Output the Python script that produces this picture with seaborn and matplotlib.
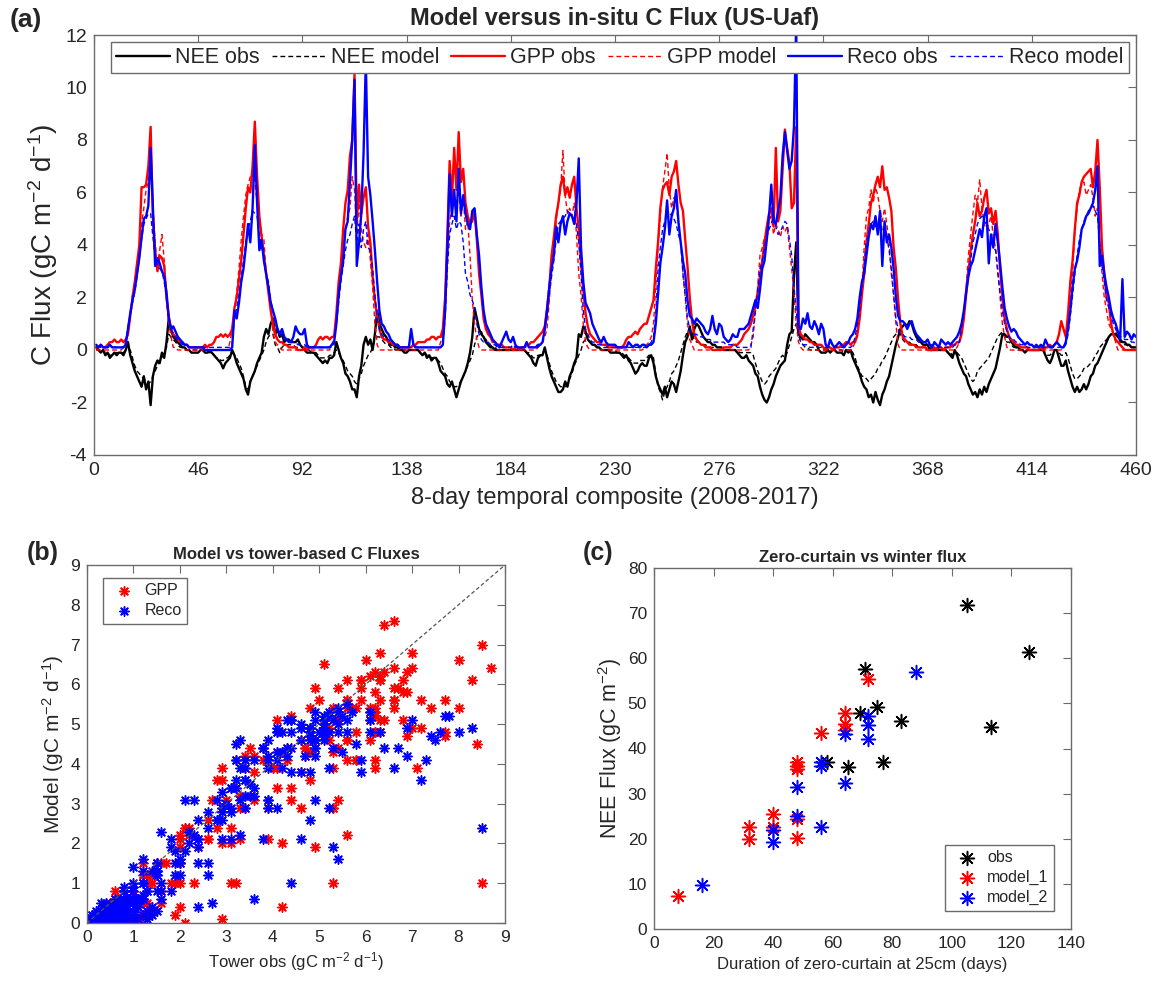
import numpy as np
import pandas as pd
import matplotlib
matplotlib.use("Agg")
import matplotlib.pyplot as plt
import seaborn as sns

# ---------------------------------------------------------------------------
# Panel (a): 8-day composites 2008-2017, one row of 46 composites per year
# ---------------------------------------------------------------------------
gpp_obs = [
    [0.1,0.1,0.2,0.1,0.1,0.2,0.3,0.3,0.4,0.3,0.3,0.4,0.3,0.4,0.6,1.3,2.0,2.6,3.3,4.0,6.2,6.2,6.3,7.0,8.5,5.0,3.8,3.0,3.6,3.5,3.2,2.0,1.3,0.8,0.6,0.5,0.4,0.3,0.3,0.2,0.2,0.1,0.1,0.1,0.1,0.1],
    [0.1,0.1,0.2,0.1,0.2,0.2,0.3,0.5,0.5,0.6,0.5,0.6,0.5,0.6,0.8,1.6,2.0,2.7,3.4,4.4,5.4,6.2,6.0,7.0,8.7,6.6,5.1,4.3,3.6,2.9,2.2,1.5,1.0,0.6,0.4,0.3,0.3,0.2,0.2,0.1,0.1,0.1,0.1,0,0,0],
    [0.1,0,0.1,0.1,0.1,0.2,0.4,0.5,0.4,0.5,0.5,0.4,0.5,0.5,1.4,2.6,3.3,4.6,5.6,6.1,7.4,8.0,10.5,4.9,6.3,5.2,5.8,6.2,4.7,4.1,2.8,1.9,1.3,0.8,0.5,0.4,0.4,0.3,0.3,0.2,0.2,0.2,0.1,0.1,0.1,0.1],
    [0.1,0.1,0.2,0.2,0.3,0.3,0.3,0.3,0.4,0.4,0.5,0.5,0.4,0.5,0.5,0.8,2.0,4.4,7.2,5.7,7.7,6.1,8.3,6.4,6.9,5.6,5.1,4.8,4.9,5.3,4.2,2.9,2.1,1.2,0.8,0.6,0.5,0.3,0.3,0.2,0.2,0.2,0.1,0.1,0.1,0.1],
    [0,0.1,0.1,0,0.1,0.1,0.2,0.2,0.3,0.3,0.4,0.5,0.6,0.7,0.9,1.6,2.4,3.6,4.3,5.1,5.6,6.3,6.6,5.9,6.2,5.8,6.3,6.6,5.4,4.6,3.3,2.3,1.4,0.9,0.6,0.5,0.4,0.3,0.3,0.2,0.2,0.2,0.1,0.1,0.1,0.1],
    [0.1,0.1,0.1,0.2,0.4,0.5,0.5,0.6,0.7,0.6,0.8,0.9,1.0,1.0,1.3,1.6,1.9,3.1,4.1,5.4,6.1,6.3,6.4,5.9,6.6,6.8,7.2,6.3,5.6,5.3,4.2,3.2,2.0,1.1,0.6,0.4,0.3,0.2,0.2,0.1,0.1,0.1,0,0,0,0],
    [0,0.1,0.1,0.1,0.1,0.2,0.2,0.2,0.3,0.4,0.6,0.7,0.8,1.0,1.3,1.7,2.2,2.8,3.4,4.1,4.7,5.2,5.4,4.7,7.7,4.9,5.3,6.9,8.4,7.7,7.1,5.4,5.6,8.5,0.9,0.6,0.5,0.4,0.4,0.3,0.3,0.2,0.2,0.2,0.2,0.1],
    [0,0.1,0.1,0,0.1,0.1,0.1,0.2,0.2,0.3,0.3,0.2,0.3,0.3,0.6,1.2,2.1,2.9,4.1,4.8,5.6,5.9,6.3,6.6,6.2,7.0,6.1,6.2,5.8,5.3,3.9,3.1,1.9,1.0,0.5,0.4,0.3,0.2,0.2,0.2,0.1,0.1,0.1,0.1,0.1,0],
    [0,0,0.1,0,0.1,0.1,0,0.1,0.1,0.1,0.2,0.2,0.3,0.3,0.6,1.2,2.1,2.9,3.8,4.4,4.9,5.6,5.1,5.3,5.8,6.1,5.2,5.4,4.8,5.3,4.4,3.1,2.0,1.2,0.8,0.5,0.4,0.3,0.2,0.2,0.1,0.1,0.1,0.1,0,0],
    [0,0,0,0.1,0,0.1,0.1,0.2,0.1,0.2,0.3,0.6,1.1,0.8,0.5,1.4,2.6,3.4,4.6,5.6,5.9,6.4,6.6,6.7,6.8,6.9,6.2,6.8,8.0,6.2,3.9,2.9,2.0,1.8,1.0,0.6,0.4,0.3,0.2,0.1,0,0,0,0,0,0],
]
gpp_mod = [
    [0,0,0,0,0,0,0,0,0,0,0,0,0.1,0.3,0.6,1.2,2.1,2.6,3.2,3.9,4.8,5.4,6.1,6.4,7.0,5.6,4.1,3.1,3.8,4.4,3.4,1.9,1.0,0.5,0.1,0.1,0,0,0,0,0,0,0,0,0,0],
    [0,0,0,0,0,0,0,0,0,0,0,0,0,0.3,0.8,1.5,2.2,3.1,4.2,5.1,5.9,6.3,6.6,6.8,6.4,5.6,4.9,4.4,4.2,2.9,2.2,1.5,0.7,0.3,0.2,0.1,0,0,0,0,0,0,0,0,0,0],
    [0,0,0,0,0,0,0,0,0,0,0,0,0.2,0.5,1.2,2.1,2.9,3.8,4.6,5.1,5.4,6.6,6.1,4.4,5.6,4.6,4.1,3.9,4.4,3.4,2.4,1.0,0.2,0,0,0,0,0,0,0,0,0,0,0,0,0],
    [0,0,0,0,0,0,0,0,0,0,0,0,0,0,0.3,0.6,1.5,3.4,4.9,5.4,5.6,5.3,6.1,5.1,5.8,4.6,4.9,3.6,1.9,1.0,0.4,0.1,0,0,0,0,0,0,0,0,0,0,0,0,0,0],
    [0,0,0,0,0,0,0,0,0,0,0,0.1,0.2,0.3,0.5,0.8,1.9,3.1,4.1,4.9,5.6,6.1,7.6,5.9,5.2,5.4,5.1,5.6,4.4,2.9,2.1,1.0,0.3,0.1,0,0,0,0,0,0,0,0,0,0,0,0],
    [0,0,0,0,0,0,0,0,0,0,0,0,0.1,0.2,0.3,0.5,1.0,2.4,3.9,5.1,6.2,6.8,7.5,6.1,5.4,5.8,5.6,4.8,4.1,2.9,2.0,1.0,0.4,0.2,0,0,0,0,0,0,0,0,0,0,0,0],
    [0,0,0,0,0,0,0,0,0,0,0,0,0,0.2,0.5,1.5,2.4,3.6,3.9,4.3,4.2,4.9,5.1,4.4,4.8,4.6,4.3,4.7,4.5,4.7,3.9,3.1,2.2,1.0,0.3,0.1,0,0,0,0,0,0,0,0,0,0],
    [0,0,0,0,0,0,0,0,0,0,0,0,0.1,0.3,0.5,1.2,2.4,3.9,5.1,5.4,6.1,5.6,6.2,5.9,5.3,4.9,5.4,4.8,4.1,2.9,2.1,1.0,0.2,0,0,0,0,0,0,0,0,0,0,0,0,0],
    [0,0,0,0,0,0,0,0,0,0,0,0,0.1,0.3,0.8,1.5,2.4,3.6,4.4,5.2,5.9,5.6,6.5,5.4,4.8,4.6,4.8,5.1,4.3,3.9,3.1,2.0,1.0,0.5,0.1,0,0,0,0,0,0,0,0,0,0,0],
    [0,0,0,0,0,0,0,0,0,0,0,0,0,0.1,0.3,1.0,2.1,2.9,4.6,5.4,6.1,6.3,6.4,5.9,6.1,6.3,5.8,5.1,5.4,4.1,2.9,2.0,1.5,1.0,0.8,0.6,0.3,0,0,0,0,0,0,0,0,0],
]
reco_obs = [
    [0.2,0.1,0.2,0.1,0.1,0.1,0.2,0.1,0.1,0.1,0.1,0.1,0.1,0.2,0.8,1.4,1.9,2.3,2.9,3.5,4.3,5.0,5.1,5.5,7.7,5.5,3.2,3.5,3.3,3.0,2.8,2.2,1.2,0.8,0.9,0.7,0.5,0.4,0.3,0.2,0.2,0.1,0.1,0.1,0.1,0.1],
    [0.1,0.1,0,0,0,0,0,0,0,0,0,0,0,0,0.1,1.5,1.2,1.8,2.6,3.1,3.9,4.8,4.1,5.4,7.8,5.6,3.8,4.2,3.4,2.9,2.4,1.8,1.5,1.2,0.8,0.6,0.8,0.5,0.4,0.3,0.3,0.5,0.9,0.7,0.6,0.6],
    [0.8,0.2,0.1,0.1,0.1,0.1,0.1,0.1,0.1,0.1,0.1,0.1,0.2,0.3,1.0,2.1,2.8,3.4,4.6,4.9,6.4,8.0,10.3,3.2,4.1,5.2,7.5,11.0,6.6,5.9,4.9,3.8,2.6,1.5,1.0,0.9,0.7,0.6,0.4,0.3,0.2,0.2,0.1,0.1,0.1,0.1],
    [0.1,0.8,0.2,0.1,0.1,0.1,0.1,0.1,0.1,0.1,0.1,0.1,0.1,0.1,0.1,0.2,1.5,3.9,6.7,5.1,6.1,4.9,6.9,5.2,5.9,5.2,4.8,4.6,5.3,5.4,4.4,3.6,2.4,1.5,1.0,0.8,0.6,0.4,0.3,0.2,0.1,0.3,0.5,0.7,0.4,0.3],
    [0.5,0.2,0.1,0.1,0.1,0.1,0.3,0.1,0.1,0.1,0.1,0.2,0.2,0.3,0.8,1.5,2.4,3.1,3.6,4.7,4.1,4.8,5.1,4.4,4.9,5.2,5.1,4.8,5.6,7.3,3.9,2.6,1.8,1.6,1.4,1.0,0.8,0.6,0.4,0.3,0.5,0.3,0.2,0.2,0.2,0.2],
    [0.1,0.1,0.1,0.1,0.1,0.3,0.2,0.1,0.2,0.2,0.1,0.2,0.2,0.1,0.2,0.2,0.3,1.0,2.1,3.3,3.9,4.6,5.7,4.4,5.1,5.4,6.1,4.9,4.1,3.4,2.9,1.9,1.3,1.2,1.0,1.2,1.1,1.0,0.9,0.7,0.6,0.8,1.3,0.8,0.6,1.0],
    [0.9,0.5,0.4,0.3,0.4,0.6,0.5,0.5,0.8,0.8,0.8,0.9,1.0,1.3,1.6,1.9,1.6,2.3,3.1,3.4,4.2,5.1,6.3,4.9,4.8,5.3,5.8,7.4,8.3,7.6,6.9,7.2,8.5,12.5,0.9,0.8,1.2,1.0,1.4,0.9,0.8,1.1,0.9,0.6,1.0,0.8],
    [0.2,0.1,0.4,0.2,0.1,0.2,0.3,0.2,0.1,0.2,0.3,0.5,0.6,0.8,1.2,2.0,2.6,2.9,3.6,4.3,4.8,4.6,5.1,4.4,5.3,3.2,4.9,4.1,4.4,3.9,3.1,2.0,1.3,1.1,1.1,1.0,0.8,1.0,1.1,0.8,0.6,0.5,0.4,0.3,0.3,0.4],
    [0.2,0.1,0.3,0.2,0.1,0.4,0.3,0.2,0.3,0.2,0.3,0.4,0.5,0.7,1.0,1.5,2.2,2.8,3.2,3.4,3.8,4.2,4.6,4.3,5.1,5.4,3.3,4.4,3.9,4.8,4.1,3.3,2.4,1.6,1.2,0.9,0.7,0.8,0.7,0.5,0.4,0.3,0.2,0.3,0.2,0.2],
    [0.1,0.2,0.1,0.2,0.1,0.4,0.2,0.1,0.1,0.2,0.3,0.2,0.1,0.1,0.3,0.8,1.5,2.4,3.1,3.4,3.9,4.6,4.8,5.1,5.2,5.4,5.6,6.1,7.0,3.2,3.6,2.9,2.4,2.0,1.5,1.2,1.0,0.7,0.4,2.7,0.5,0.7,0.6,0.4,0.6,0.5],
]
reco_mod = [
    [0.1,0.1,0.1,0.1,0.1,0.1,0.1,0.1,0.1,0.1,0.1,0.1,0.1,0.2,0.9,1.3,1.8,2.2,2.8,3.5,4.2,4.8,5.0,5.2,5.2,4.3,3.6,3.2,3.1,3.0,2.6,2.0,1.3,0.8,0.6,0.5,0.4,0.3,0.2,0.2,0.2,0.1,0.1,0.1,0.1,0.1],
    [0.1,0.1,0.1,0.1,0.1,0.1,0.1,0.1,0.1,0.1,0.1,0.1,0.1,0.1,0.2,1.2,1.6,2.1,2.8,3.4,4.1,4.6,4.9,5.3,5.2,5.1,4.4,3.9,3.6,2.9,2.6,1.9,1.5,1.0,0.8,0.6,0.5,0.4,0.4,0.3,0.3,0.3,0.3,0.2,0.2,0.2],
    [0.2,0.1,0.1,0.1,0.1,0.1,0.1,0.1,0.1,0.1,0.1,0.1,0.1,0.2,1.0,1.8,2.6,3.2,3.8,4.2,4.4,4.8,5.1,4.1,4.8,3.9,4.6,4.9,3.9,3.8,3.1,2.1,1.2,0.8,0.6,0.5,0.4,0.4,0.3,0.3,0.2,0.2,0.1,0.1,0.1,0.1],
    [0.1,0.1,0.1,0.1,0.1,0.1,0.1,0.1,0.1,0.1,0.1,0.1,0.1,0.1,0.1,0.2,1.2,3.1,4.4,4.8,5.1,4.6,4.9,4.8,4.1,2.9,2.6,2.1,1.9,1.6,1.0,0.6,0.4,0.3,0.3,0.3,0.2,0.2,0.2,0.1,0.1,0.1,0.1,0.1,0.1,0.1],
    [0.2,0.1,0.1,0.1,0.1,0.1,0.1,0.1,0.1,0.1,0.1,0.1,0.2,0.3,0.8,1.3,2.1,2.8,3.4,4.2,4.8,4.9,5.0,5.1,5.3,5.2,5.1,4.9,4.8,4.1,2.9,1.5,0.8,0.6,0.4,0.3,0.3,0.2,0.2,0.2,0.1,0.1,0.1,0.1,0.1,0.1],
    [0.1,0.1,0.1,0.1,0.1,0.1,0.1,0.1,0.1,0.1,0.1,0.1,0.1,0.1,0.2,0.3,0.5,1.4,3.1,3.9,4.6,4.9,5.3,5.1,5.2,5.0,4.8,4.4,4.1,2.9,2.1,1.2,0.8,0.6,0.6,0.6,0.5,0.5,0.5,0.4,0.4,0.4,0.3,0.3,0.3,0.3],
    [0.3,0.3,0.2,0.2,0.2,0.2,0.2,0.1,0.1,0.1,0.1,0.1,0.1,0.1,0.8,1.5,2.3,3.1,3.4,3.9,4.3,4.6,4.8,5.1,4.7,4.4,4.5,4.7,4.9,4.8,4.2,3.6,2.4,1.5,0.6,0.3,0.2,0.2,0.2,0.1,0.1,0.1,0.1,0.1,0.1,0.1],
    [0.1,0.1,0.1,0.1,0.1,0.1,0.1,0.1,0.1,0.1,0.1,0.1,0.2,0.5,1.0,1.5,2.4,3.3,4.1,4.4,4.8,4.9,4.7,4.8,5.1,4.5,4.6,4.3,3.8,3.1,2.1,1.2,0.8,0.6,0.6,0.5,0.5,0.5,0.4,0.4,0.4,0.3,0.3,0.3,0.3,0.2],
    [0.2,0.2,0.2,0.1,0.1,0.1,0.1,0.1,0.1,0.1,0.1,0.2,0.2,0.3,0.9,1.5,2.3,3.1,3.4,4.1,4.4,4.8,5.0,5.1,4.9,4.8,4.6,4.4,3.9,3.8,2.9,2.2,1.5,1.0,0.7,0.5,0.4,0.4,0.3,0.3,0.2,0.2,0.2,0.1,0.1,0.1],
    [0.1,0.1,0.1,0.1,0.1,0.1,0.1,0.1,0.1,0.1,0.1,0.1,0.1,0.1,0.2,0.6,1.3,2.1,2.9,3.6,4.2,4.6,4.9,5.1,5.3,5.4,5.5,5.3,5.1,4.1,3.2,2.6,1.9,1.6,1.3,1.0,0.8,0.6,0.5,0.5,0.4,0.4,0.4,0.3,0.3,0.2],
]
nee_obs = [
    [0.1,0,-0.1,0,-0.2,-0.1,-0.3,-0.2,-0.1,-0.2,-0.1,-0.1,-0.2,0,0.3,-0.2,-0.5,-0.8,-1.0,-1.2,-1.4,-1.0,-1.5,-1.2,-2.1,-1.0,-0.6,-0.4,-0.5,-0.1,-0.3,0.3,1.2,0.8,0.5,0.4,0.3,0.2,0.1,0.1,0,0,-0.1,-0.1,-0.1,-0.1],
    [0,0,-0.1,-0.1,0,-0.1,-0.2,-0.3,-0.4,-0.5,-0.7,-0.5,-0.4,-0.3,0,-0.2,-0.5,-0.7,-0.9,-1.1,-1.5,-1.7,-1.2,-1.0,-0.8,-0.5,-0.3,-0.1,0.5,0.8,0.6,1.0,1.2,0.6,0.8,0.5,0.6,0.3,0.4,0.4,0.3,0.3,0.3,0.4,0.2,0.1],
    [0,-0.1,-0.1,-0.1,-0.1,-0.2,-0.3,-0.4,-0.5,-0.4,-0.5,-0.3,-0.3,-0.2,0.3,0,-0.3,-0.5,-0.9,-1.0,-1.2,-1.5,-1.5,-1.8,-1.0,-0.6,0.2,0.5,0.2,0.4,0,0.6,1.5,1.0,0.8,0.6,0.5,0.3,0.2,0.2,0.1,0.1,0,0,-0.1,-0.1],
    [0,0,0,0,0,-0.1,-0.2,-0.1,-0.3,-0.2,-0.4,-0.3,-0.3,-0.5,-0.8,-0.9,-1.0,-1.3,-1.4,-1.2,-1.5,-1.8,-1.5,-1.2,-1.0,-0.8,-0.5,-0.1,0.5,1.6,1.2,0.8,0.6,0.5,0.3,0.2,0.1,0.1,0,0,0,0,0,0,0,0],
    [0,0,0,0,0,0,-0.1,-0.2,-0.3,-0.5,-0.6,-0.3,-0.2,-0.2,0.1,-0.3,-0.7,-1.0,-1.2,-1.4,-1.6,-1.6,-1.5,-1.2,-1.4,-1.0,-0.8,-0.5,-0.3,0.6,0.5,0.9,0.7,0.4,0.3,0.2,0.2,0.1,0.1,0,0,0,0,-0.1,-0.1,-0.1],
    [-0.1,-0.1,-0.2,-0.3,-0.2,-0.4,-0.5,-0.7,-0.9,-0.8,-0.6,-0.5,-0.6,-0.6,-0.3,-0.2,-0.5,-1.0,-1.3,-1.5,-1.7,-1.4,-1.8,-1.5,-1.2,-1.3,-1.6,-1.2,-0.8,-0.2,0.3,0.5,0.9,0.4,0.8,1.0,0.9,0.7,0.5,0.4,0.3,0.3,0.2,0.2,0.1,0.1],
    [0.1,0,0,0,0,0,0,-0.1,-0.2,-0.3,-0.3,-0.2,-0.4,-0.5,-0.6,-0.9,-1.0,-1.4,-1.7,-1.9,-2.0,-1.8,-1.5,-1.3,-1.0,-0.8,-0.6,-0.5,-0.4,0.2,0.6,0.7,2.8,4.1,0.6,0.5,0.4,0.6,0.5,0.4,0.3,0.3,0.2,0,-0.1,-0.1],
    [-0.1,0,-0.1,0,0,-0.1,-0.1,-0.1,-0.2,0,-0.1,0,-0.3,-0.5,-0.7,-0.9,-1.2,-1.4,-1.5,-1.8,-1.7,-2.0,-1.6,-1.9,-2.1,-1.7,-1.5,-1.2,-1.0,-0.6,-0.2,0.2,0.5,0.8,0.9,1.0,0.9,1.1,1.0,0.7,0.5,0.4,0.3,0.2,0.2,0.2],
    [0,0,0,0,0,0,0,0,-0.1,-0.2,-0.3,0,-0.2,-0.5,-0.7,-0.9,-1.0,-1.3,-1.5,-1.7,-1.6,-1.8,-1.5,-1.7,-1.4,-1.6,-1.3,-1.1,-0.9,-0.7,-0.3,0.1,0.6,0.6,0.5,0.5,0.3,0.2,0.1,0.1,0,0,-0.1,0,0,0],
    [0,0,0,0,0,-0.2,-0.4,-0.5,-0.3,0,0,-0.3,-0.6,-0.6,-0.4,-0.8,-1.1,-1.4,-1.6,-1.4,-1.6,-1.5,-1.3,-1.5,-1.3,-1.0,-0.9,-0.6,-0.5,-0.3,-0.1,0.1,0.3,0.5,0.6,0.6,0.6,0.5,0.4,0.3,0.3,0.2,0.2,0.1,0.1,0.1],
]
nee_mod = [
    [0,0,-0.1,0,-0.1,-0.1,-0.2,-0.2,-0.1,-0.1,-0.1,-0.1,-0.1,0,0,0,-0.3,-0.6,-0.8,-0.9,-1.0,-1.1,-1.2,-1.3,-1.2,-1.0,-0.8,-0.6,-0.4,-0.3,-0.1,0.1,0.6,0.5,0.4,0.3,0.2,0.1,0.1,0,0,0,0,0,0,0],
    [0,0,0,-0.1,-0.1,-0.1,-0.2,-0.3,-0.3,-0.4,-0.4,-0.3,-0.3,-0.2,-0.1,-0.2,-0.3,-0.5,-0.7,-1.0,-1.4,-1.5,-1.2,-1.0,-0.8,-0.6,-0.4,-0.2,0,0.3,0.5,0.6,0.6,0.2,0.1,-0.1,0.1,0.2,0.2,0.2,0.2,0.2,0.1,0.1,0.1,0.1],
    [0.1,0,0,-0.1,-0.1,-0.1,-0.2,-0.3,-0.3,-0.3,-0.3,-0.2,-0.2,-0.1,0,-0.1,-0.3,-0.4,-0.6,-0.8,-0.9,-1.0,-1.2,-1.3,-1.1,-0.9,-0.6,-0.4,-0.2,-0.1,0.1,0.4,0.5,0.5,0.4,0.3,0.2,0.2,0.1,0.1,0,0,0,0,0,0],
    [0,0,0,0,0,-0.1,-0.1,-0.1,-0.2,-0.2,-0.3,-0.3,-0.3,-0.4,-0.5,-0.7,-0.9,-1.0,-1.2,-1.3,-1.4,-1.4,-1.3,-1.2,-1.0,-0.8,-0.6,-0.4,-0.2,0.2,0.5,0.6,0.7,0.5,0.4,0.3,0.2,0.1,0.1,0,0,0,0,0,0,0],
    [0,0,0,0,0,0,-0.1,-0.1,-0.2,-0.3,-0.3,-0.2,-0.2,-0.1,0,-0.2,-0.5,-0.8,-1.0,-1.2,-1.3,-1.4,-1.4,-1.4,-1.3,-1.1,-0.9,-0.6,-0.4,-0.2,0,0.3,0.4,0.4,0.3,0.2,0.2,0.1,0.1,0,0,0,0,0,0,0],
    [-0.1,-0.1,-0.1,-0.2,-0.2,-0.3,-0.4,-0.5,-0.5,-0.5,-0.4,-0.4,-0.4,-0.3,-0.2,-0.2,-0.3,-0.9,-1.4,-1.6,-1.9,-1.6,-1.4,-1.2,-0.9,-0.8,-0.6,-0.4,-0.1,0.2,0.5,0.7,0.8,0.6,0.4,0.3,0.3,0.2,0.2,0.2,0.1,0.1,0.1,0.1,0.1,0.1],
    [0.1,0,0,0,0,0,0,0,-0.1,-0.1,-0.1,-0.1,-0.1,-0.1,-0.2,-0.5,-0.8,-1.0,-1.2,-1.3,-1.2,-1.0,-0.9,-0.8,-0.7,-0.5,-0.3,-0.2,-0.3,-0.1,0.2,0.5,0.8,1.0,0.6,0.3,0.2,0.1,0.1,0,0,0,0,0,0,0],
    [0,0,0,0,0,0,0,0,-0.1,0,0,0,-0.1,-0.3,-0.6,-0.8,-1.0,-1.0,-1.1,-1.2,-1.1,-1.0,-0.9,-0.7,-0.6,-0.4,-0.3,-0.1,0.1,0.3,0.5,0.6,0.7,0.6,0.4,0.3,0.3,0.3,0.2,0.2,0.2,0.1,0.1,0.1,0.1,0.1],
    [0.1,0,0,0,0,0,0,0,-0.1,-0.1,-0.2,-0.1,-0.1,-0.2,-0.3,-0.5,-0.7,-0.9,-1.1,-1.2,-1.1,-0.8,-0.7,-0.6,-0.5,-0.4,-0.3,-0.1,0.1,0.3,0.5,0.6,0.7,0.5,0.3,0.3,0.2,0.1,0.1,0,0,0,0,0,0,0],
    [0,0,0,0,0,-0.1,-0.2,-0.2,-0.1,0,0,-0.1,-0.2,-0.2,-0.1,-0.3,-0.6,-0.9,-1.1,-1.1,-1.0,-0.9,-0.7,-0.7,-0.6,-0.5,-0.4,-0.2,-0.1,0.1,0.2,0.3,0.4,0.5,0.6,0.6,0.7,0.5,0.3,0.3,0.2,0.2,0.1,0.1,0.1,0.1],
]

# ---------------------------------------------------------------------------
# Panel (c): zero-curtain duration vs winter NEE
# ---------------------------------------------------------------------------
obs_days = [58, 65, 69, 71, 75, 77, 83, 105, 113, 126]
obs_nee = [36.9, 35.8, 47.8, 57.7, 49.2, 36.9, 46.0, 71.8, 44.8, 61.3]
model1_days = [8, 32, 32, 40, 40, 48, 48, 48, 48, 48, 56, 64, 64, 64, 72]
model1_nee = [7.4, 22.7, 20.0, 25.4, 22.7, 37.0, 36.2, 35.5, 24.3, 20.2, 43.4, 47.8, 45.5, 44.2, 55.5]
model2_days = [16, 40, 40, 48, 48, 56, 56, 56, 64, 64, 72, 72, 72, 88]
model2_nee = [9.8, 21.9, 19.2, 31.4, 25.1, 36.9, 36.2, 22.6, 43.2, 32.3, 47.1, 45.3, 42.2, 56.9]

raw = {"gpp_obs": gpp_obs, "gpp_mod": gpp_mod, "reco_obs": reco_obs,
       "reco_mod": reco_mod, "nee_obs": nee_obs, "nee_mod": nee_mod}
bad = [(k, i, len(r)) for k, rows in raw.items() for i, r in enumerate(rows) if len(r) != 46]
if bad:
    raise SystemExit(f"bad rows: {bad}")
flux = {k: np.concatenate(rows) for k, rows in raw.items()}
composite = np.arange(1, 461)

# ---------------------------------------------------------------------------
sns.set_theme(style="white")
plt.rcParams["font.family"] = ["Liberation Sans", "DejaVu Sans"]
plt.rcParams["mathtext.default"] = "regular"
plt.rcParams["axes.unicode_minus"] = False

FRAME = "#6b6b6b"
TICKC = "#262626"
ASTER = (8, 2, 0)
DASH = (0, (3.5, 2.2))


def matlab_box(ax, size):
    for sp in ax.spines.values():
        sp.set_color(FRAME)
        sp.set_linewidth(1.0)
    ax.tick_params(direction="in", top=True, right=True, length=6, width=0.8,
                   color=FRAME, labelcolor=TICKC, labelsize=size, pad=5)


def small_legend(ax, **kw):
    return ax.legend(borderaxespad=0, fontsize=11.5, fancybox=False, edgecolor=FRAME,
                     framealpha=1, handlelength=2.0, handletextpad=0.25, borderpad=0.35,
                     labelspacing=0.3, **kw)


fig = plt.figure(figsize=(11.6, 9.85), dpi=100)

# ---- (a) time series
ax = fig.add_axes([94 / 1160, 1 - 455 / 985, 1042 / 1160, 420 / 985])
series = [
    ("nee_obs", "black", "-", 1.7, "NEE obs"),
    ("nee_mod", "black", DASH, 1.0, "NEE model"),
    ("gpp_obs", "red", "-", 1.7, "GPP obs"),
    ("gpp_mod", "red", DASH, 1.0, "GPP model"),
    ("reco_obs", "blue", "-", 1.7, "Reco obs"),
    ("reco_mod", "blue", DASH, 1.0, "Reco model"),
]
for key, col, ls, lw, lab in series:
    sns.lineplot(x=composite, y=flux[key], color=col, linestyle=ls, linewidth=lw,
                 label=lab, estimator=None, errorbar=None, ax=ax)
ax.set_xlim(0, 460)
ax.set_ylim(-4, 12)
ax.set_xticks(np.arange(0, 461, 46))
ax.set_yticks(np.arange(-4, 13, 2))
matlab_box(ax, 14)
ax.set_xlabel("8-day temporal composite (2008-2017)", fontsize=17, color=TICKC, labelpad=6)
ax.set_ylabel("C Flux (gC m$^{-2}$ d$^{-1}$)", fontsize=20, color=TICKC, labelpad=4)
ax.set_title("Model versus in-situ C Flux (US-Uaf)", fontsize=17, fontweight="bold", pad=7)
leg = ax.legend(ncol=6, loc="upper left", bbox_to_anchor=(0.016, 0.984), borderaxespad=0,
                fontsize=15.5, handlelength=2.5, handletextpad=0.25, columnspacing=0.55,
                fancybox=False, edgecolor=FRAME, framealpha=1, borderpad=0.25)
leg.get_frame().set_linewidth(1.0)
fig.text(10 / 1160, 1 - 20 / 985, "(a)", fontsize=19, fontweight="bold", va="center")

# ---- (b) model vs tower scatter
axb = fig.add_axes([87 / 1160, 1 - 923 / 985, 418 / 1160, 358 / 985])
sns.scatterplot(x=flux["gpp_obs"], y=flux["gpp_mod"], marker=ASTER, color="red", s=45,
                linewidth=1.1, label="GPP", ax=axb)
sns.scatterplot(x=flux["reco_obs"], y=flux["reco_mod"], marker=ASTER, color="blue", s=45,
                linewidth=1.1, label="Reco", ax=axb)
axb.axline((0, 0), slope=1, color="#555555", linestyle=(0, (3, 2)), linewidth=0.9)
axb.set_xlim(0, 9)
axb.set_ylim(0, 9)
axb.set_xticks(range(10))
axb.set_yticks(range(10))
matlab_box(axb, 12.5)
axb.set_xlabel("Tower obs (gC m$^{-2}$ d$^{-1}$)", fontsize=12, color=TICKC, labelpad=4)
axb.set_ylabel("Model (gC m$^{-2}$ d$^{-1}$)", fontsize=15, color=TICKC, labelpad=3)
axb.set_title("Model vs tower-based C Fluxes", fontsize=12, fontweight="bold", pad=4)
small_legend(axb, loc="upper left", bbox_to_anchor=(0.038, 0.964))
fig.text(27 / 1160, 1 - 553 / 985, "(b)", fontsize=18, fontweight="bold", va="center")

# ---- (c) zero-curtain vs winter flux
axc = fig.add_axes([654 / 1160, 1 - 929 / 985, 417 / 1160, 361 / 985])
for xs, ys, col, lab in [(obs_days, obs_nee, "black", "obs"),
                         (model1_days, model1_nee, "red", "model_1"),
                         (model2_days, model2_nee, "blue", "model_2")]:
    sns.scatterplot(x=xs, y=ys, marker=ASTER, color=col, s=100, linewidth=1.1,
                    label=lab, ax=axc)
axc.set_xlim(0, 140)
axc.set_ylim(0, 80)
axc.set_xticks(range(0, 141, 20))
axc.set_yticks(range(0, 81, 10))
matlab_box(axc, 12.5)
axc.set_xlabel("Duration of zero-curtain at 25cm (days)", fontsize=12, color=TICKC, labelpad=4)
axc.set_ylabel("NEE Flux (gC m$^{-2}$)", fontsize=15.5, color=TICKC, labelpad=3)
axc.set_title("Zero-curtain vs winter flux", fontsize=12, fontweight="bold", pad=4)
small_legend(axc, loc="lower right", bbox_to_anchor=(0.959, 0.05))
fig.text(583 / 1160, 1 - 553 / 985, "(c)", fontsize=18, fontweight="bold", va="center")

fig.savefig("out.png", dpi=100, facecolor="white")
